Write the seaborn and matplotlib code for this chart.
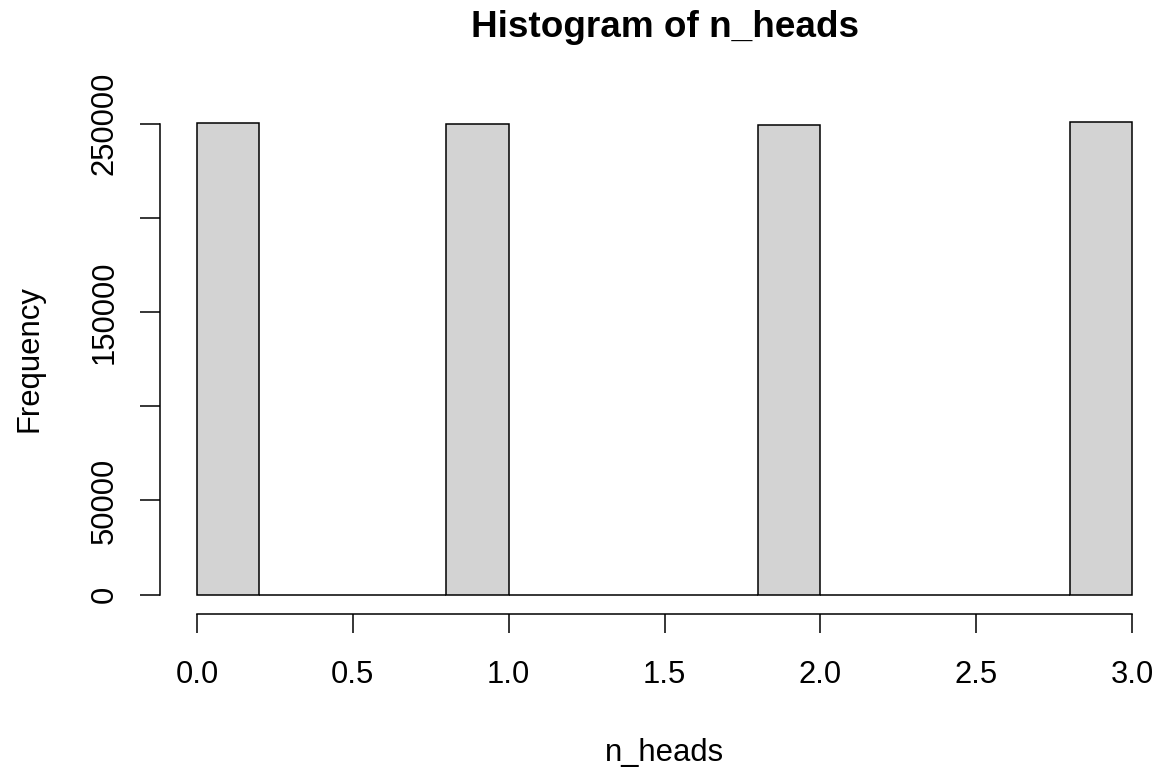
import numpy as np
import pandas as pd
import matplotlib
matplotlib.use("Agg")
import matplotlib.pyplot as plt
import seaborn as sns

# Number of heads observed and how often each outcome occurred
n_heads_values = [0, 1, 2, 3]
n_heads_counts = [250500, 249800, 249100, 250600]

# Histogram breaks (width 0.2 from 0 to 3), right-closed bins
bin_edges = [round(b, 10) for b in np.arange(0, 3.0001, 0.2)]
x_ticks = [0.0, 0.5, 1.0, 1.5, 2.0, 2.5, 3.0]
x_tick_labels = ["0.0", "0.5", "1.0", "1.5", "2.0", "2.5", "3.0"]
y_ticks = [0, 50000, 100000, 150000, 200000, 250000]
# labels that would collide are left blank
y_tick_labels = ["0", "50000", "", "150000", "", "250000"]

# Bin the outcomes with right-closed intervals, lowest edge included
df = pd.DataFrame({"n_heads": n_heads_values, "count": n_heads_counts})
df["bin"] = pd.cut(df["n_heads"], bin_edges, right=True, include_lowest=True)
binned = df.groupby("bin", observed=False)["count"].sum()
edges_arr = np.array(bin_edges)
hist_df = pd.DataFrame({
    "mid": (edges_arr[:-1] + edges_arr[1:]) / 2,
    "freq": binned.to_numpy(),
})

sns.set_style("white")
plt.rcParams["font.family"] = ["Liberation Sans", "DejaVu Sans"]
plt.rcParams["text.color"] = "black"

W, H = 1160, 768
fig = plt.figure(figsize=(W / 100, H / 100), dpi=100)

# plot region in pixels
left_px, right_px = 159.6, 1160.0
top_px, bottom_px = 103.5, 613.6
ax = fig.add_axes([left_px / W, 1 - bottom_px / H,
                   (right_px - left_px) / W, (bottom_px - top_px) / H])

lw = 1.1
sns.histplot(data=hist_df, x="mid", weights="freq", bins=bin_edges, ax=ax,
             color="#D3D3D3", edgecolor="black", linewidth=lw, alpha=1.0)

ax.set_xlim(-0.12, 3.0898)
ax.set_ylim(-10024, 260624)

for side in ["top", "right"]:
    ax.spines[side].set_visible(False)
ax.spines["left"].set_bounds(0, 250000)
ax.spines["bottom"].set_bounds(0, 3)
for side in ["left", "bottom"]:
    ax.spines[side].set_color("black")
    ax.spines[side].set_linewidth(lw)

ax.set_xticks(x_ticks)
ax.set_xticklabels(x_tick_labels)
ax.set_yticks(y_ticks)
ax.set_yticklabels(y_tick_labels, rotation=90, va="center")
ax.tick_params(axis="x", direction="out", length=14, width=lw, colors="black",
               labelsize=22.3, pad=19.7, bottom=True)
ax.tick_params(axis="y", direction="out", length=14.4, width=lw, colors="black",
               labelsize=22.3, pad=14.5, left=True)
ax.set_xlabel("")
ax.set_ylabel("")
ax.grid(False)

center_x = 664.7 / W
fig.text(center_x, 1 - 37.3 / H, "Histogram of n_heads", ha="center",
         va="baseline", fontsize=26.6, fontweight="bold", color="black")
fig.text(center_x, 1 - 761 / H, "n_heads", ha="center", va="baseline",
         fontsize=22.3, color="black")
fig.text(37.3 / W, 1 - 358.5 / H, "Frequency", ha="center", va="baseline",
         rotation=90, rotation_mode="anchor", fontsize=22.3, color="black")

fig.savefig("out.png", dpi=100, facecolor="white")
